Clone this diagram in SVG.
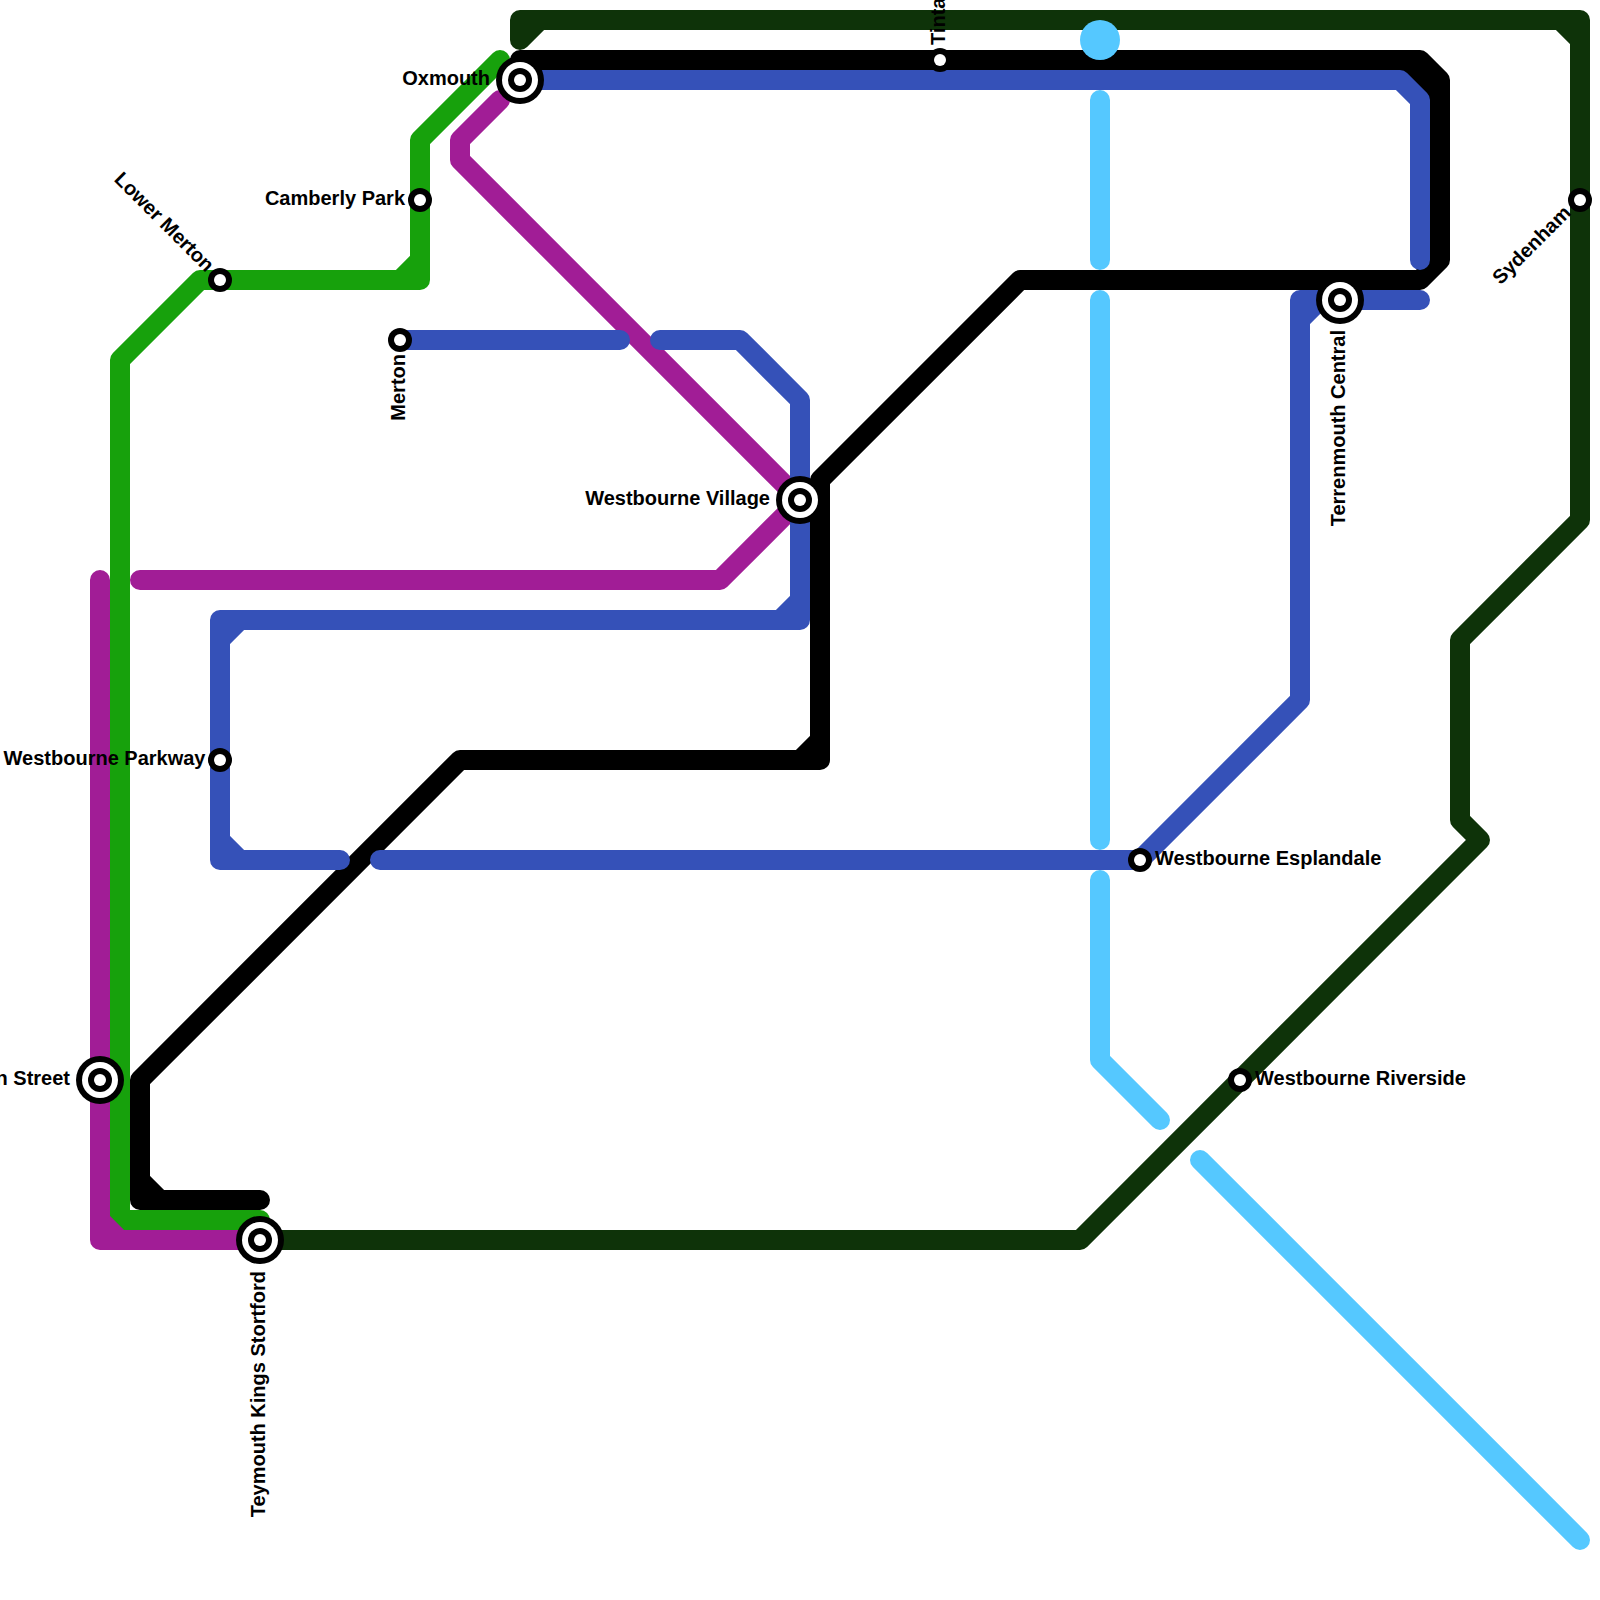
<svg xmlns="http://www.w3.org/2000/svg" width="1600" height="1600" viewBox="0 0 1600 1600">
<style>
.l{fill:none;stroke-width:20;stroke-linecap:round;stroke-linejoin:round}
.green{stroke:#17a10c}.purple{stroke:#a11d96}.blue{stroke:#3551b8}.black{stroke:#000}.dark{stroke:#0e3309}.sky{stroke:#55c8ff}
text{font-family:"Liberation Sans",Arial,sans-serif;font-size:20px;font-weight:bold;fill:#000}
.e{text-anchor:end}
</style>
<defs>
<g id="big"><circle r="24" fill="#000"/><circle r="18" fill="#fff"/><circle r="12" fill="#000"/><circle r="6" fill="#fff"/></g>
<g id="small"><circle r="12" fill="#000"/><circle r="6" fill="#fff"/></g>
</defs>
<rect width="1600" height="1600" fill="#fff"/>
<g id="connectors">
<path class="l green" d="M500 60L420 140V280H200L120 360V1220H260M400 280L420 260"/>
<path class="l purple" d="M100 580V1240H260M100 1220L120 1240M500 100L460 140V160L800 500L720 580H140"/>
<path class="l black" d="M520 60H1420L1440 80V260L1420 280H1020L820 480V760H460L140 1080V1200H260M800 760L820 740M140 1180L160 1200M1405 65L1430 90"/>
<path class="l blue" d="M520 80H1400L1420 100V260"/>
<path class="l blue" d="M1420 300H1300V700L1140 860H380M1320 300L1300 320"/>
<path class="l blue" d="M340 860H220V620H800V400L740 340H660M220 840L240 860M220 640L240 620M780 620L800 600"/>
<path class="l blue" d="M400 340H620"/>
<path class="l dark" d="M520 40V20H1580V520L1460 640V820L1480 840L1080 1240H260M520 40L540 20M1560 20L1580 40"/>
<path class="l sky" d="M1100 100V260M1100 300V840M1100 880V1060L1160 1120M1200 1160L1580 1540"/>
<circle cx="1100" cy="40" r="20" fill="#55c8ff"/>
</g>
<g id="oxmouth"><use href="#big" x="520" y="80"/><text class="e" x="490" y="85">Oxmouth</text></g>
<g id="camberly-park"><use href="#small" x="420" y="200"/><text class="e" x="405" y="205">Camberly Park</text></g>
<g id="lower-merton"><use href="#small" x="220" y="280"/><text class="e" transform="translate(206 273) rotate(45)">Lower Merton</text></g>
<g id="merton"><use href="#small" x="400" y="340"/><text class="e" transform="translate(405 354) rotate(-90)">Merton</text></g>
<g id="westbourne-parkway"><use href="#small" x="220" y="760"/><text class="e" x="205.5" y="765">Westbourne Parkway</text></g>
<g id="westbourne-village"><use href="#big" x="800" y="500"/><text class="e" x="770" y="505">Westbourne Village</text></g>
<g id="street"><use href="#big" x="100" y="1080"/><text class="e" x="70" y="1085">n Street</text></g>
<g id="teymouth-kings-stortford"><use href="#big" x="260" y="1240"/><text class="e" transform="translate(265 1271) rotate(-90)">Teymouth Kings Stortford</text></g>
<g id="terrenmouth-central"><use href="#big" x="1340" y="300"/><text class="e" transform="translate(1345 330) rotate(-90)">Terrenmouth Central</text></g>
<g id="westbourne-esplandale"><use href="#small" x="1140" y="860"/><text x="1155" y="865">Westbourne Esplandale</text></g>
<g id="westbourne-riverside"><use href="#small" x="1240" y="1080"/><text x="1255" y="1085">Westbourne Riverside</text></g>
<g id="sydenham"><use href="#small" x="1580" y="200"/><text class="e" transform="translate(1572 214) rotate(-45)">Sydenham</text></g>
<g id="tinta"><use href="#small" x="940" y="60"/><text transform="translate(945 45) rotate(-90)">Tinta</text></g>
</svg>
